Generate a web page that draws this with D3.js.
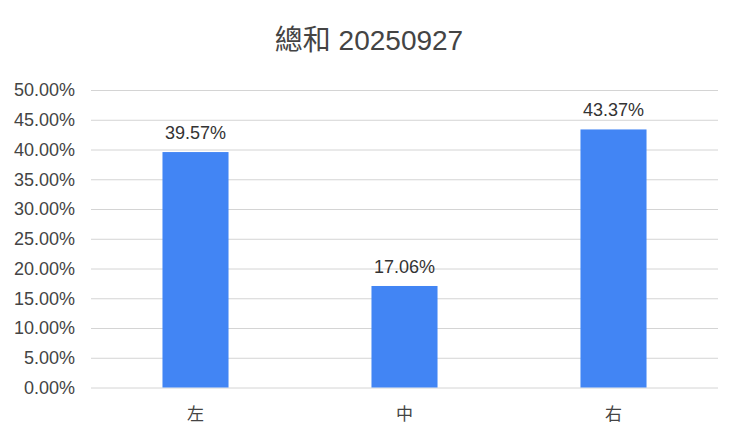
<!DOCTYPE html>
<html>
<head>
<meta charset="utf-8">
<script src="https://cdn.jsdelivr.net/npm/d3@7"></script>
<style>
  body { margin: 0; background: #fff; }
  text { font-family: "Liberation Sans", Arial, "Noto Sans CJK TC", sans-serif; }
</style>
</head>
<body>
<div id="chart"></div>
<script>
const title = "總和 20250927";
const categories = ["左", "中", "右"];
const values = [0.3957, 0.1706, 0.4337];
const yTicks = [0, 0.05, 0.10, 0.15, 0.20, 0.25, 0.30, 0.35, 0.40, 0.45, 0.50];

const width = 740, height = 440;
const margin = {top: 90, right: 22, bottom: 52, left: 91};

const svg = d3.select("#chart").append("svg")
    .attr("width", width)
    .attr("height", height);

const x = d3.scaleBand()
    .domain(categories)
    .range([margin.left, width - margin.right])
    .paddingInner(0.684)
    .paddingOuter(0.342);

const y = d3.scaleLinear()
    .domain([0, 0.5])
    .range([height - margin.bottom - 0.5, margin.top]);

const fmt = d3.format(".2%");

// gridlines + tick labels
const yAxis = g => g
    .attr("transform", `translate(${margin.left},0)`)
    .call(d3.axisLeft(y).tickValues(yTicks).tickFormat(fmt)
        .tickSize(-(width - margin.left - margin.right)).tickPadding(16))
    .call(g => g.select(".domain").remove())
    .call(g => g.selectAll(".tick line").attr("stroke", "#d4d4d4"))
    .call(g => g.selectAll(".tick text")
        .attr("fill", "#444")
        .attr("font-size", 18)
        .attr("font-family", "Liberation Sans, Arial, sans-serif"));

svg.append("g").call(yAxis);

svg.append("g")
    .selectAll("rect")
    .data(values)
    .join("rect")
    .attr("x", (d, i) => x(categories[i]))
    .attr("y", d => y(d))
    .attr("width", x.bandwidth())
    .attr("height", d => y(0) - y(d))
    .attr("fill", "#4285f4");

svg.append("g")
    .selectAll("text")
    .data(values)
    .join("text")
    .attr("x", (d, i) => x(categories[i]) + x.bandwidth() / 2)
    .attr("y", d => y(d) - 13)
    .attr("text-anchor", "middle")
    .attr("font-size", 18)
    .attr("fill", "#333")
    .text(d => fmt(d));

const xAxis = g => g
    .attr("transform", `translate(0,${height - margin.bottom})`)
    .call(d3.axisBottom(x).tickSize(0).tickPadding(20))
    .call(g => g.select(".domain").remove())
    .call(g => g.selectAll(".tick text")
        .attr("fill", "#444")
        .attr("font-size", 17)
        .attr("font-family", "Noto Sans CJK TC, sans-serif"));

svg.append("g").call(xAxis);

svg.append("text")
    .attr("x", 369)
    .attr("y", 50)
    .attr("text-anchor", "middle")
    .attr("font-size", 28)
    .attr("fill", "#444")
    .text(title);
</script>
</body>
</html>
